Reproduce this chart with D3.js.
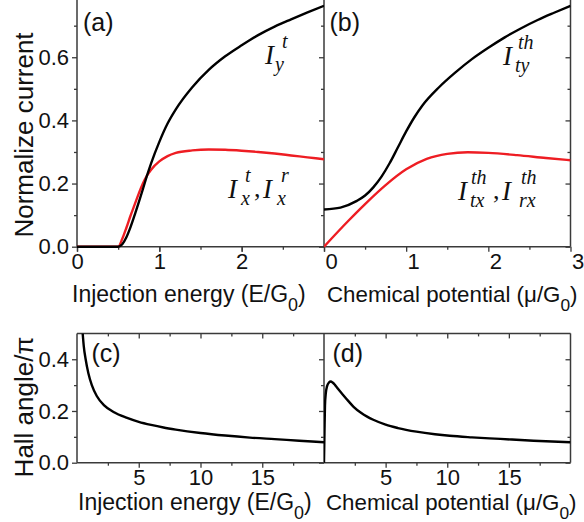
<!DOCTYPE html>
<html>
<head>
<meta charset="utf-8">
<script src="https://cdn.jsdelivr.net/npm/d3@7"></script>
<style>
  body { margin: 0; background: #fff; }
  svg { display: block; }
</style>
</head>
<body>
<script>
// (a) normalized currents vs injection energy E/G0
const energyA = [0, 0.5, 0.55, 0.6, 0.65, 0.7, 0.75, 0.8, 0.85, 0.9, 1.0, 1.1, 1.2, 1.4, 1.6, 1.8, 2.0, 2.2, 2.4, 2.6, 2.8, 3.0];
const currentYt = [0, 0, 0.008, 0.03, 0.062, 0.1, 0.14, 0.182, 0.225, 0.264, 0.332, 0.39, 0.435, 0.505, 0.56, 0.603, 0.638, 0.67, 0.697, 0.72, 0.742, 0.763];
const currentXt = [0, 0, 0.025, 0.06, 0.098, 0.133, 0.168, 0.2, 0.225, 0.244, 0.27, 0.287, 0.297, 0.305, 0.308, 0.307, 0.304, 0.3, 0.295, 0.289, 0.283, 0.277];

// (b) thermal currents vs chemical potential mu/G0
const muB = [0, 0.2, 0.4, 0.5, 0.6, 0.7, 0.8, 0.9, 1.0, 1.1, 1.2, 1.4, 1.6, 1.8, 2.0, 2.2, 2.4, 2.6, 2.8, 3.0];
const currentTy = [0.118, 0.124, 0.145, 0.162, 0.188, 0.222, 0.265, 0.315, 0.365, 0.41, 0.448, 0.505, 0.552, 0.594, 0.63, 0.663, 0.692, 0.718, 0.741, 0.763];
const muBr = [0, 0.3, 0.5, 0.75, 1.0, 1.25, 1.5, 1.75, 2.0, 2.35, 2.7, 3.0];
const currentTx = [0, 0.083, 0.135, 0.195, 0.245, 0.278, 0.294, 0.299, 0.297, 0.29, 0.281, 0.274];

// (c) Hall angle vs injection energy
const energyC = [0.46, 0.55, 0.7, 0.92, 1.2, 1.6, 2.2, 3, 4, 5, 6, 7, 8, 10, 12, 14, 16, 18, 20];
const hallC = [0.5, 0.45, 0.4, 0.346, 0.3, 0.258, 0.222, 0.195, 0.174, 0.158, 0.146, 0.136, 0.128, 0.115, 0.105, 0.097, 0.091, 0.085, 0.079];

// (d) Hall angle vs chemical potential
const muD = [0, 0.04, 0.08, 0.15, 0.25, 0.4, 0.55, 0.7, 0.9, 1.2, 1.55, 2, 2.4, 3, 3.5, 4, 5, 6, 7.5, 9, 10.2, 12, 14.3, 17, 20];
const hallD = [0, 0.12, 0.22, 0.27, 0.296, 0.31, 0.314, 0.31, 0.3, 0.282, 0.262, 0.237, 0.216, 0.193, 0.178, 0.166, 0.147, 0.134, 0.12, 0.11, 0.104, 0.098, 0.092, 0.085, 0.079];

// tick values
const topXLabelsA = [0, 1, 2];
const topXLabelsB = [0, 1, 2, 3];
const topXMajor = [0, 1, 2, 3];
const topXMinor = [0.5, 1.5, 2.5];
const topYLabels = [0, 0.2, 0.4, 0.6];
const topYMajor = [0, 0.2, 0.4, 0.6, 0.8];
const topYMinor = [0.1, 0.3, 0.5, 0.7];
const botXMajor = [5, 10, 15];
const botXMinor = [2.5, 7.5, 12.5, 17.5];
const botYMajor = [0, 0.2, 0.4];
const botYMinor = [0.1, 0.3];

const W = 584, H = 522;
const AXIS = "#3a3a3a";
const RED = "#ee1d23";
const SANS = "'Liberation Sans', Arial, sans-serif";
const SERIF = "'Liberation Serif', 'Times New Roman', serif";

const svg = d3.select("body").append("svg").attr("width", W).attr("height", H);
svg.append("rect").attr("width", W).attr("height", H).attr("fill", "#fff");
const defs = svg.append("defs");

const xL = 77, xM = 324, xR = 570.5;
const yTopBase = 246.7, yBotTop = 333.4, yBotBase = 462.7;

const xa = d3.scaleLinear().domain([0, 3]).range([xL, xM]);
const xb = d3.scaleLinear().domain([0, 3]).range([xM, xR]);
const yTop = d3.scaleLinear().domain([0, 0.8]).range([yTopBase, -5.9]);
const xc = d3.scaleLinear().domain([0, 20]).range([xL, xM]);
const xd = d3.scaleLinear().domain([0, 20]).range([xM, xR]);
const yBot = d3.scaleLinear().domain([0, 0.5]).range([yBotBase, yBotTop]);

function styleAxis(g) {
  g.select(".domain").remove();
  g.selectAll(".tick line").attr("stroke", AXIS).attr("stroke-width", 1.3);
  g.selectAll(".tick text").attr("fill", "#111").attr("font-size", 22).attr("font-family", SANS);
}

function addAxis(axis, tx, ty) {
  const g = svg.append("g").attr("transform", `translate(${tx},${ty})`).call(axis);
  styleAxis(g);
  return g;
}

function frameLine(x1, y1, x2, y2) {
  svg.append("line").attr("x1", x1).attr("y1", y1).attr("x2", x2).attr("y2", y2)
    .attr("stroke", AXIS).attr("stroke-width", 1.5);
}

function clip(id, x0, y0, x1, y1) {
  defs.append("clipPath").attr("id", id).append("rect")
    .attr("x", x0).attr("y", y0).attr("width", x1 - x0).attr("height", y1 - y0);
}

function curve(xs, ys, sx, sy, color, clipId) {
  const pts = xs.map((v, i) => [v, ys[i]]);
  svg.append("path")
    .datum(pts)
    .attr("clip-path", `url(#${clipId})`)
    .attr("fill", "none")
    .attr("stroke", color)
    .attr("stroke-width", 2.4)
    .attr("stroke-linejoin", "round")
    .attr("d", d3.line().x(d => sx(d[0])).y(d => sy(d[1])).curve(d3.curveMonotoneX));
}

// ---------- top row: (a) and (b) ----------
// y ticks: outward on the left axis, inward on the divider and right edge
addAxis(d3.axisLeft(yTop).tickValues(topYLabels).tickSize(5).tickPadding(3).tickFormat(d3.format(".1f")), xL, 0);
addAxis(d3.axisLeft(yTop).tickValues(topYMinor).tickSize(3).tickFormat(""), xL, 0);
addAxis(d3.axisLeft(yTop).tickValues(topYMajor).tickSize(5).tickFormat(""), xM, 0);
addAxis(d3.axisLeft(yTop).tickValues(topYMinor).tickSize(3).tickFormat(""), xM, 0);
addAxis(d3.axisRight(yTop).tickValues(topYMajor).tickSize(-5).tickFormat(""), xR, 0);
addAxis(d3.axisRight(yTop).tickValues(topYMinor).tickSize(-3).tickFormat(""), xR, 0);

// x ticks
addAxis(d3.axisBottom(xa).tickValues(topXLabelsA).tickSize(5).tickPadding(2).tickFormat(d3.format("d")), 0, yTopBase);
addAxis(d3.axisBottom(xa).tickValues(topXMajor).tickSize(5).tickFormat(""), 0, yTopBase);
addAxis(d3.axisBottom(xa).tickValues(topXMinor).tickSize(3).tickFormat(""), 0, yTopBase);
const axB = addAxis(d3.axisBottom(xb).tickValues(topXLabelsB).tickSize(5).tickPadding(2).tickFormat(d3.format("d")), 0, yTopBase);
axB.selectAll(".tick text").attr("dx", 7);
addAxis(d3.axisBottom(xb).tickValues(topXMinor).tickSize(3).tickFormat(""), 0, yTopBase);

frameLine(xL, -2, xL, yTopBase);
frameLine(xM, -2, xM, yTopBase);
frameLine(xR, -2, xR, yTopBase);
frameLine(xL, yTopBase, xR, yTopBase);

clip("clipA", xL, -10, xM, yTopBase + 2);
clip("clipB", xM, -10, xR, yTopBase + 2);
curve(energyA, currentXt, xa, yTop, RED, "clipA");
curve(energyA, currentYt, xa, yTop, "#000", "clipA");
curve(muBr, currentTx, xb, yTop, RED, "clipB");
curve(muB, currentTy, xb, yTop, "#000", "clipB");

// ---------- bottom row: (c) and (d) ----------
addAxis(d3.axisLeft(yBot).tickValues(botYMajor).tickSize(5).tickPadding(3).tickFormat(d3.format(".1f")), xL, 0);
addAxis(d3.axisLeft(yBot).tickValues(botYMinor).tickSize(3).tickFormat(""), xL, 0);
addAxis(d3.axisLeft(yBot).tickValues(botYMajor).tickSize(5).tickFormat(""), xM, 0);
addAxis(d3.axisLeft(yBot).tickValues(botYMinor).tickSize(3).tickFormat(""), xM, 0);
addAxis(d3.axisRight(yBot).tickValues(botYMajor).tickSize(-5).tickFormat(""), xR, 0);
addAxis(d3.axisRight(yBot).tickValues(botYMinor).tickSize(-3).tickFormat(""), xR, 0);

addAxis(d3.axisBottom(xc).tickValues(botXMajor).tickSize(5).tickPadding(2).tickFormat(d3.format("d")), 0, yBotBase);
addAxis(d3.axisBottom(xc).tickValues(botXMinor).tickSize(3).tickFormat(""), 0, yBotBase);
addAxis(d3.axisBottom(xd).tickValues(botXMajor).tickSize(5).tickPadding(2).tickFormat(d3.format("d")), 0, yBotBase);
addAxis(d3.axisBottom(xd).tickValues(botXMinor).tickSize(3).tickFormat(""), 0, yBotBase);
addAxis(d3.axisTop(xc).tickValues(botXMajor).tickSize(-5).tickFormat(""), 0, yBotTop);
addAxis(d3.axisTop(xc).tickValues(botXMinor).tickSize(-3).tickFormat(""), 0, yBotTop);
addAxis(d3.axisTop(xd).tickValues(botXMajor).tickSize(-5).tickFormat(""), 0, yBotTop);
addAxis(d3.axisTop(xd).tickValues(botXMinor).tickSize(-3).tickFormat(""), 0, yBotTop);

frameLine(xL, yBotTop, xR, yBotTop);
frameLine(xL, yBotBase, xR, yBotBase);
frameLine(xL, yBotTop, xL, yBotBase);
frameLine(xM, yBotTop, xM, yBotBase);
frameLine(xR, yBotTop, xR, yBotBase);

clip("clipC", xL, yBotTop, xM, yBotBase + 2);
clip("clipD", xM, yBotTop, xR, yBotBase + 2);
curve(energyC, hallC, xc, yBot, "#000", "clipC");
curve(muD, hallD, xd, yBot, "#000", "clipD");

// ---------- texts ----------
function sansText(x, y, size, str) {
  return svg.append("text").attr("x", x).attr("y", y)
    .attr("font-family", SANS).attr("font-size", size).attr("fill", "#111").text(str);
}

// panel letters
sansText(83, 31, 25, "(a)");
sansText(329.5, 31, 25, "(b)");
sansText(91.5, 362, 25, "(c)");
sansText(332.5, 362, 25, "(d)");

// axis titles with subscript 0
function xTitle(x, y, main, size) {
  const t = svg.append("text").attr("x", x).attr("y", y)
    .attr("font-family", SANS).attr("font-size", size).attr("fill", "#111");
  t.append("tspan").text(main);
  t.append("tspan").attr("font-size", size * 0.78).attr("dy", 9).text("0");
  t.append("tspan").attr("dy", -9).text(")");
}
xTitle(72, 302, "Injection energy (E/G", 23);
xTitle(327, 302, "Chemical potential (\u03bc/G", 22.3);
xTitle(78, 510, "Injection energy (E/G", 23);
xTitle(326, 510, "Chemical potential (\u03bc/G", 22.3);

function yTitle(x, y, str) {
  svg.append("text").attr("transform", `translate(${x},${y}) rotate(-90)`)
    .attr("text-anchor", "middle")
    .attr("font-family", SANS).attr("font-size", 26).attr("fill", "#111").text(str);
}
yTitle(33, 135, "Normalize current");
yTitle(33, 407, "Hall angle/\u03c0");

// italic current symbols: I with stacked superscript/subscript
function symbol(x, y, sup, sub, supDx, subDx) {
  const g = svg.append("g").attr("font-family", SERIF).attr("font-style", "italic").attr("fill", "#111");
  g.append("text").attr("x", x).attr("y", y).attr("font-size", 27).text("I");
  g.append("text").attr("x", x + supDx).attr("y", y - 16).attr("font-size", 20).text(sup);
  g.append("text").attr("x", x + subDx).attr("y", y + 7).attr("font-size", 20).text(sub);
}
function comma(x, y) {
  svg.append("text").attr("x", x).attr("y", y).attr("font-family", SERIF)
    .attr("font-size", 26).attr("fill", "#111").text(",");
}

symbol(265, 63.5, "t", "y", 17, 10);
symbol(228, 198, "t", "x", 17, 13);
comma(254, 197);
symbol(263, 198, "r", "x", 18, 14);

symbol(503, 65, "th", "ty", 15, 12);
symbol(458, 200, "th", "tx", 13, 12);
comma(493, 199);
symbol(502, 200, "th", "rx", 19, 17);
</script>
</body>
</html>
